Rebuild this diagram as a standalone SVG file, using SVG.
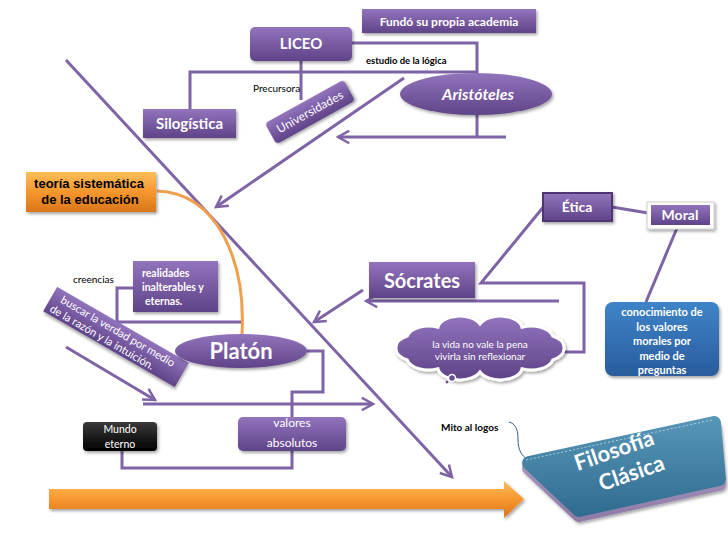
<svg xmlns="http://www.w3.org/2000/svg" width="728" height="546" viewBox="0 0 728 546">
<defs>
<linearGradient id="gP" x1="0" y1="0" x2="0" y2="1"><stop offset="0" stop-color="#9274bd"/><stop offset="1" stop-color="#5f4388"/></linearGradient>
<linearGradient id="gB" x1="0" y1="0" x2="0" y2="1"><stop offset="0" stop-color="#3f84c8"/><stop offset="1" stop-color="#295c9e"/></linearGradient>
<linearGradient id="gK" x1="0" y1="0" x2="0" y2="1"><stop offset="0" stop-color="#3a3a3a"/><stop offset="1" stop-color="#000"/></linearGradient>
<linearGradient id="gO" x1="0" y1="0" x2="0" y2="1"><stop offset="0" stop-color="#fbbf5a"/><stop offset="0.5" stop-color="#f7962e"/><stop offset="1" stop-color="#d9761a"/></linearGradient>
<linearGradient id="gF" gradientUnits="userSpaceOnUse" x1="0" y1="410" x2="0" y2="520"><stop offset="0" stop-color="#5a9abb"/><stop offset="1" stop-color="#2f6a8e"/></linearGradient>
<linearGradient id="gBase" gradientUnits="userSpaceOnUse" x1="0" y1="420" x2="0" y2="528"><stop offset="0" stop-color="#b7a9c9"/><stop offset="1" stop-color="#8a77a4"/></linearGradient>
<filter id="sh" x="-20%" y="-20%" width="140%" height="150%"><feDropShadow dx="1.5" dy="2" stdDeviation="1.5" flood-color="#000" flood-opacity="0.35"/></filter>
<marker id="ah" viewBox="0 0 12 12" refX="10" refY="6" markerWidth="15" markerHeight="15" markerUnits="userSpaceOnUse" orient="auto"><path d="M1,1 L10,6 L1,11" fill="none" stroke="#7e63a6" stroke-width="2"/></marker>
</defs>
<style>
.ln{fill:none;stroke:#7e63a6;stroke-width:3;stroke-linejoin:miter}
.arr{marker-end:url(#ah)}
.bx{fill:url(#gP);filter:url(#sh)}
.t{font-family:Lato,"Open Sans","Liberation Sans",sans-serif;fill:#fff}
.b{font-weight:bold}
.k{fill:#000}
.c{text-anchor:middle}
</style>
<rect width="728" height="546" fill="#fff"/>

<g id="connectors">
<line class="ln arr" x1="66" y1="60" x2="452" y2="477"/>
<polyline class="ln" points="352,43 477,43 477,75"/>
<polyline class="ln" points="190,110 190,72 477,72"/>
<line class="ln" x1="301" y1="61" x2="301" y2="100"/>
<line class="ln" x1="477" y1="113" x2="477" y2="137"/>
<line class="ln arr" x1="506" y1="137" x2="338" y2="137"/>
<line class="ln arr" x1="404" y1="78" x2="216" y2="207"/>
<path d="M157,191 C218,193 246,262 242,334" fill="none" stroke="#f0a04c" stroke-width="3"/>
<polyline class="ln" points="133,288 117,288 117,322 241,322"/>
<line class="ln arr" x1="66" y1="347" x2="155" y2="400"/>
<line class="ln arr" x1="143" y1="404" x2="373" y2="404"/>
<polyline class="ln" points="307,351 323,351 323,392 292,392 292,468 122,468 122,451"/>
<line class="ln arr" x1="363" y1="290" x2="314" y2="322"/>
<line class="ln arr" x1="559" y1="301" x2="366" y2="301"/>
<polyline class="ln" points="545,205 481,283 584,283 584,352 562,352"/>
<line class="ln" x1="612" y1="207" x2="648" y2="213"/>
<line class="ln" x1="677" y1="228" x2="646" y2="302"/>
<path d="M509,422 C517,424 518,432 518,440 C518,450 522,456 527,459" fill="none" stroke="#2f5d8a" stroke-width="1"/>
<polygon points="49,489 504,489 504,481 524,499 504,518 504,509 49,509" fill="url(#gO)" filter="url(#sh)"/>
</g>

<g id="fundo"><rect class="bx" x="362" y="9" width="174" height="24"/><text class="t b c" x="449" y="25.5" font-size="12">Fundó su propia academia</text></g>
<g id="liceo"><rect class="bx" x="250" y="27" width="102" height="34" rx="5"/><text class="t b c" x="301" y="49" font-size="15">LICEO</text></g>
<g id="estudio"><text class="t b k" x="366" y="64" font-size="9.5">estudio de la lógica</text></g>
<g id="precursora"><text class="t k" x="253" y="92" font-size="10">Precursora</text></g>
<g id="aristoteles"><ellipse cx="476" cy="94" rx="76" ry="21" fill="url(#gP)" filter="url(#sh)"/><text class="t b c" x="478" y="100" font-size="16" font-style="italic">Aristóteles</text></g>
<g id="silogistica"><rect class="bx" x="143" y="109" width="93" height="29"/><text class="t b c" x="189.5" y="129" font-size="15">Silogística</text></g>
<g id="universidades" transform="translate(310,112) rotate(-29)"><rect class="bx" x="-45" y="-12" width="90" height="24" rx="4"/><text class="t c" x="0" y="4" font-size="12">Universidades</text></g>
<g id="teoria"><rect x="26" y="172" width="130" height="40" fill="url(#gO)" filter="url(#sh)"/><text class="b k c" x="89" y="188" font-size="13" font-family="Liberation Sans,Arial,sans-serif">teoría sistemática</text><text class="b k c" x="90" y="204" font-size="13" font-family="Liberation Sans,Arial,sans-serif">de la educación</text></g>
<g id="creencias"><text class="t k" x="73" y="283" font-size="10">creencias</text></g>
<g id="realidades"><rect class="bx" x="133" y="261" width="85" height="51"/><text class="t b" x="142" y="277" font-size="10.5">realidades</text><text class="t b" x="142" y="291" font-size="10.5">inalterables y</text><text class="t b" x="145" y="305" font-size="10.5">eternas.</text></g>
<g id="buscar" transform="translate(116,337) rotate(30)"><rect class="bx" x="-76" y="-14" width="152" height="28"/><text class="t" x="-66" y="-2" font-size="11">buscar la verdad por medio</text><text class="t" x="-71" y="11" font-size="11">de la razón y la intuición.</text></g>
<g id="platon"><ellipse cx="241" cy="351" rx="66" ry="17" fill="url(#gP)" filter="url(#sh)"/><text class="t b c" x="241" y="359" font-size="22">Platón</text></g>
<g id="mundo"><rect x="83" y="422" width="74" height="29" rx="4" fill="url(#gK)" filter="url(#sh)"/><text class="t c" x="120" y="433" font-size="10.5">Mundo</text><text class="t c" x="120" y="448" font-size="10.5">eterno</text></g>
<g id="valores"><rect class="bx" x="238" y="417" width="108" height="34" rx="5"/><text class="t c" x="292" y="427" font-size="12">valores</text><text class="t c" x="292" y="447" font-size="12">absolutos</text></g>
<g id="socrates"><rect class="bx" x="369" y="262" width="106" height="36"/><text class="t b c" x="422" y="288" font-size="20">Sócrates</text></g>
<g id="etica"><rect x="543" y="193" width="69" height="28" fill="url(#gP)" stroke="#4f3673" stroke-width="2" filter="url(#sh)"/><text class="t b c" x="577" y="212" font-size="14">Ética</text></g>
<g id="moral"><rect x="647" y="202" width="67" height="27" fill="#fff" stroke="#ccc" stroke-width="1" filter="url(#sh)"/><rect x="651" y="205" width="59" height="20" fill="url(#gP)"/><text class="t b c" x="680" y="220" font-size="14">Moral</text></g>
<g id="vida"><path d="M564,348 a22,13 0 0 1 -11.3,12 a22,13 0 0 1 -30.7,8.8 a22,13 0 0 1 -42,3.2 a22,13 0 0 1 -42,-3.2 a22,13 0 0 1 -30.7,-8.8 a22,13 0 0 1 -11.3,-12 a22,13 0 0 1 11.3,-12 a22,13 0 0 1 30.7,-8.8 a22,13 0 0 1 42,-3.2 a22,13 0 0 1 42,3.2 a22,13 0 0 1 30.7,8.8 a22,13 0 0 1 11.3,12 z" fill="url(#gP)" stroke="#fff" stroke-width="3" filter="url(#sh)"/><circle cx="452" cy="378" r="3.5" fill="#6a4e94" stroke="#fff" stroke-width="1.5"/><circle cx="447" cy="382" r="2" fill="#6a4e94" stroke="#fff" stroke-width="1"/><text class="t c" x="480" y="348" font-size="10">la vida no vale la pena</text><text class="t c" x="480" y="360" font-size="10">vivirla sin reflexionar</text></g>
<g id="conocimiento"><rect x="605" y="302" width="114" height="74" rx="8" fill="url(#gB)" filter="url(#sh)"/><text class="t b c" x="662" y="316" font-size="11">conocimiento de</text><text class="t b c" x="662" y="330.5" font-size="11">los valores</text><text class="t b c" x="662" y="345" font-size="11">morales por</text><text class="t b c" x="662" y="359.5" font-size="11">medio de</text><text class="t b c" x="662" y="374" font-size="11">preguntas</text></g>
<g id="mito"><text class="t b k" x="441" y="431" font-size="10">Mito al logos</text></g>
<g id="filosofia"><polygon points="529,468 714,428 719,484 579,515" fill="url(#gBase)" stroke="url(#gBase)" stroke-width="14" stroke-linejoin="round" filter="url(#sh)"/><polygon points="529,463 714,423 719,479 579,510" fill="url(#gF)" stroke="url(#gF)" stroke-width="14" stroke-linejoin="round"/><line x1="526" y1="460" x2="712" y2="420" stroke="#cfe6f2" stroke-width="1" stroke-dasharray="2,2" opacity="0.7"/><g transform="translate(622,461) rotate(-19)"><text class="t b c" x="-4" y="-5" font-size="22">Filosofía</text><text class="t b c" x="5" y="22" font-size="22">Clásica</text></g></g>
</svg>
